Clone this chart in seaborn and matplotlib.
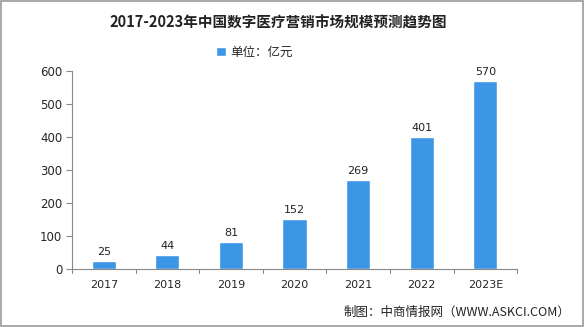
import matplotlib
matplotlib.use("Agg")
import matplotlib.pyplot as plt
import seaborn as sns
import pandas as pd
import numpy as np

years = ["2017", "2018", "2019", "2020", "2021", "2022", "2023E"]
values = [25, 44, 81, 152, 269, 401, 570]
yticks = [0, 100, 200, 300, 400, 500, 600]

sns.set_style("white")
plt.rcParams['font.family'] = ['Noto Sans CJK SC', 'DejaVu Sans']

df = pd.DataFrame({"year": years, "value": values})
fig = plt.figure(figsize=(5.85, 3.27), dpi=100)
ax = fig.add_axes([0.123, 0.177, 0.761, 0.606])
bar_color = "#3c96e6"
sns.barplot(data=df, x="year", y="value", color=bar_color, width=0.38, ax=ax,
            saturation=1, label="单位：亿元")

for i, v in enumerate(values):
    ax.text(i, v + 12, str(v), ha="center", va="bottom", fontsize=8, color="#222222",
            family=['DejaVu Sans'])

ax.set_ylim(0, 600)
ax.set_xlim(-0.5, len(years) - 0.5)
ax.set_yticks(yticks)
ax.set_yticklabels([str(t) for t in yticks], fontsize=8.5, family=['DejaVu Sans'])
ax.set_xticks(range(len(years)))
ax.set_xticklabels(years, fontsize=8, family=['DejaVu Sans'])
ax.tick_params(axis='x', length=0, pad=8)
# boundary ticks
for b in np.arange(-0.5, len(years), 1.0):
    ax.plot([b, b], [0, -0.02], transform=ax.get_xaxis_transform(), color="#888888",
            lw=0.8, clip_on=False)
ax.tick_params(axis='y', length=4, width=0.8, color="#888888", left=True, pad=3)
ax.set_xlabel("")
ax.set_ylabel("")
for s in ["top", "right"]:
    ax.spines[s].set_visible(False)
for s in ["left", "bottom"]:
    ax.spines[s].set_color("#888888")
    ax.spines[s].set_linewidth(0.8)

leg = ax.legend(loc="center", bbox_to_anchor=(0.41, 1.095), frameon=False,
                fontsize=9, handlelength=0.8, handleheight=0.8, handletextpad=0.3)

fig.text(0.476, 0.932, "2017-2023年中国数字医疗营销市场规模预测趋势图", ha="center", va="center",
         fontsize=10.5, fontweight="bold", color="#222222")
fig.text(0.975, 0.045, "制图：中商情报网（WWW.ASKCI.COM）", ha="right", va="center",
         fontsize=9, color="#222222")

border = plt.Rectangle((0.002, 0.003), 0.995, 0.994, transform=fig.transFigure,
                       fill=False, edgecolor="#999999", lw=1.2)
fig.patches.append(border)

fig.savefig("out.png", dpi=100)
